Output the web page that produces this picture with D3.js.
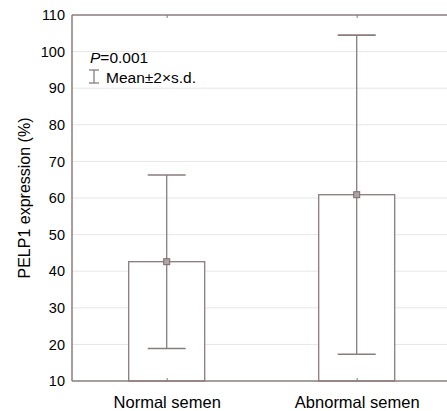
<!DOCTYPE html>
<html><head><meta charset="utf-8">
<script src="https://cdn.jsdelivr.net/npm/d3@7"></script>
<style>body{margin:0;background:#fff}svg{display:block;font-family:"Liberation Sans",Arial,sans-serif}</style>
</head><body>
<svg id="c" width="447" height="411"></svg>
<script>
const categories = ["Normal semen", "Abnormal semen"];
const means = [42.6, 60.9];
const lower = [18.9, 17.3];
const upper = [66.3, 104.5];
const yTicks = [10, 20, 30, 40, 50, 60, 70, 80, 90, 100, 110];

const svg = d3.select("#c");
const m = {l: 72, t: 15};
const W = 447;
const lineCol = "#8a7c7c";
const FF = "Liberation Sans, Arial, sans-serif";
const x = d3.scalePoint().domain(categories).range([166.7, 356.7]);
const y = d3.scaleLinear().domain([10, 110]).range([381, 15]);

// grid
svg.append("g").selectAll("line").data(yTicks.slice(1, -1)).join("line")
  .attr("x1", m.l).attr("x2", W).attr("y1", d => y(d)).attr("y2", d => y(d))
  .attr("stroke", "#e6e6e6").attr("stroke-width", 1);

// y axis
const ya = svg.append("g").attr("transform", `translate(${m.l},0)`)
  .call(d3.axisLeft(y).tickValues(yTicks).tickSize(0).tickPadding(7));
ya.select(".domain").remove();
ya.selectAll("text").attr("font-size", 14.5).attr("fill", "#000").attr("font-family", FF);

// bars
const bw = 76;
svg.append("g").selectAll("rect").data(categories).join("rect")
  .attr("x", d => x(d) - bw/2)
  .attr("width", bw)
  .attr("y", (d, i) => y(means[i]))
  .attr("height", (d, i) => y(10) - y(means[i]))
  .attr("fill", "#fff").attr("stroke", lineCol).attr("stroke-width", 1.3);

// error bars
const cap = 38;
const eb = svg.append("g");
categories.forEach((c, i) => {
  const cx = x(c);
  eb.append("line").attr("x1", cx).attr("x2", cx).attr("y1", y(upper[i])).attr("y2", y(lower[i]))
    .attr("stroke", lineCol).attr("stroke-width", 1.3);
  [upper[i], lower[i]].forEach(v => eb.append("line")
    .attr("x1", cx - cap/2).attr("x2", cx + cap/2).attr("y1", y(v)).attr("y2", y(v))
    .attr("stroke", lineCol).attr("stroke-width", 1.6));
  eb.append("rect").attr("x", cx - 3).attr("y", y(means[i]) - 3).attr("width", 6).attr("height", 6)
    .attr("fill", "#b0a5a5").attr("stroke", "#7a6c6c").attr("stroke-width", 1);
});

// frame (left, top, bottom)
const xa = svg.append("g").attr("transform", `translate(0,${y(10)})`)
  .call(d3.axisBottom(x).tickSize(-3).tickPadding(15));
xa.select(".domain").attr("d", `M${m.l},0H${W}`).attr("stroke", lineCol).attr("stroke-width", 1.5);
xa.selectAll(".tick line").attr("stroke", lineCol);
xa.selectAll("text").attr("font-size", 16.5).attr("fill", "#000").attr("font-family", FF);

const xt = svg.append("g").attr("transform", `translate(0,${y(110)})`)
  .call(d3.axisTop(x).tickSize(-3).tickFormat(""));
xt.select(".domain").attr("d", `M${m.l},0H${W}`).attr("stroke", lineCol).attr("stroke-width", 1.5);
xt.selectAll(".tick line").attr("stroke", lineCol);
svg.append("line").attr("x1", m.l).attr("x2", m.l).attr("y1", y(110)).attr("y2", y(10))
  .attr("stroke", lineCol).attr("stroke-width", 1.5);

// y label
svg.append("text").attr("transform", `translate(30,${(y(10)+y(110))/2}) rotate(-90)`)
  .attr("text-anchor", "middle").attr("font-size", 16).attr("fill", "#000")
  .text("PELP1 expression (%)");

// legend
const lg = svg.append("text").attr("x", 90).attr("y", 63).attr("font-size", 15.5).attr("fill", "#000");
lg.append("tspan").attr("font-style", "italic").text("P");
lg.append("tspan").text("=0.001");
svg.append("line").attr("x1", 94).attr("x2", 94).attr("y1", 70).attr("y2", 83).attr("stroke", lineCol).attr("stroke-width", 1.3);
svg.append("line").attr("x1", 89).attr("x2", 99).attr("y1", 70).attr("y2", 70).attr("stroke", lineCol).attr("stroke-width", 1.3);
svg.append("line").attr("x1", 89).attr("x2", 99).attr("y1", 83).attr("y2", 83).attr("stroke", lineCol).attr("stroke-width", 1.3);
svg.append("text").attr("x", 106).attr("y", 83).attr("font-size", 15.5).attr("fill", "#000").text("Mean±2×s.d.");
</script>
</body></html>
